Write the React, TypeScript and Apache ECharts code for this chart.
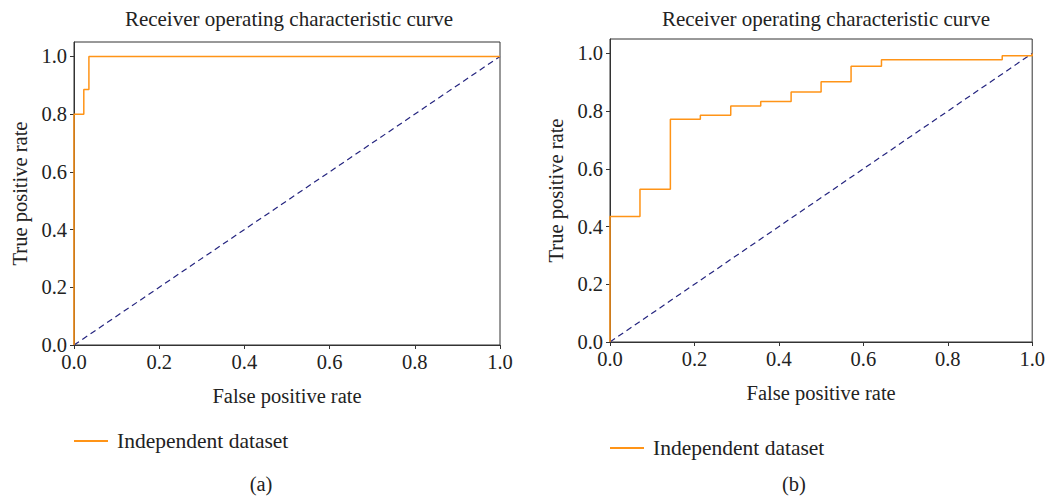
import React, { useEffect, useRef } from "react";
import * as echarts from "echarts";

// Panel (a) ROC points
const fprA = [0, 0, 0.023, 0.023, 0.035, 0.035, 1];
const tprA = [0, 0.8, 0.8, 0.885, 0.885, 1, 1];
// Panel (b) ROC points
const fprB = [0, 0, 0.071, 0.071, 0.143, 0.143, 0.214, 0.214, 0.286, 0.286, 0.357, 0.357, 0.429, 0.429, 0.5, 0.5, 0.571, 0.571, 0.643, 0.643, 0.929, 0.929, 1, 1];
const tprB = [0, 0.435, 0.435, 0.529, 0.529, 0.772, 0.772, 0.786, 0.786, 0.818, 0.818, 0.833, 0.833, 0.866, 0.866, 0.902, 0.902, 0.956, 0.956, 0.978, 0.978, 0.992, 0.992, 1];
// Chance diagonal
const diagX = [0, 1];
const diagY = [0, 1];

const tickValues = [0, 0.2, 0.4, 0.6, 0.8, 1.0];
const titleText = "Receiver operating characteristic curve";
const xName = "False positive rate";
const yName = "True positive rate";
const legendName = "Independent dataset";
const panelLabels = ["(a)", "(b)"];

const FONT = "Liberation Serif";
const ORANGE = "#ff9417";
const NAVY = "#24247f";
const FRAME = "#333333";

const zip = (xs: number[], ys: number[]) => xs.map((x, i) => [x, ys[i]]);

export default function App() {
  const ref = useRef<HTMLDivElement>(null);
  useEffect(() => {
    if (!ref.current) return;
    const chart = echarts.init(ref.current, undefined, { renderer: "svg" });
    const grids = [
      { left: 74, top: 42, width: 426, height: 303 },
      { left: 610, top: 39, width: 426, height: 303 },
    ];
    const mkX = (gi: number) => ({
      type: "value",
      gridIndex: gi,
      min: 0,
      max: 1,
      name: xName,
      nameLocation: "middle",
      nameGap: 40,
      nameTextStyle: { fontFamily: FONT, fontSize: 20.5, color: "#222" },
      axisLine: { show: true, lineStyle: { color: FRAME, width: 1 } },
      axisTick: { show: true, length: 4, customValues: tickValues, lineStyle: { color: FRAME } },
      axisLabel: {
        customValues: tickValues,
        formatter: (v: number) => v.toFixed(1),
        fontFamily: FONT,
        fontSize: 20.5,
        color: "#222",
        margin: 6,
      },
      splitLine: { show: false },
    });
    const mkY = (gi: number) => ({
      type: "value",
      gridIndex: gi,
      min: 0,
      max: 1.05,
      name: yName,
      nameLocation: "middle",
      nameGap: 44,
      nameTextStyle: { fontFamily: FONT, fontSize: 20.5, color: "#222" },
      axisLine: { show: true, lineStyle: { color: FRAME, width: 1 } },
      axisTick: { show: true, length: 4, customValues: tickValues, lineStyle: { color: FRAME } },
      axisLabel: {
        customValues: tickValues,
        formatter: (v: number) => v.toFixed(1),
        fontFamily: FONT,
        fontSize: 20.5,
        color: "#222",
        margin: 7,
      },
      splitLine: { show: false },
    });
    const rocSeries = (idx: number, xs: number[], ys: number[]) => ({
      type: "line",
      name: legendName,
      xAxisIndex: idx,
      yAxisIndex: idx,
      data: zip(xs, ys),
      symbol: "none",
      clip: false,
      z: 4,
      lineStyle: { color: ORANGE, width: 1.5 },
      itemStyle: { color: ORANGE },
    });
    const diagSeries = (idx: number) => ({
      type: "line",
      name: "chance",
      xAxisIndex: idx,
      yAxisIndex: idx,
      data: zip(diagX, diagY),
      symbol: "none",
      clip: false,
      z: 3,
      lineStyle: { color: NAVY, width: 1.2, type: [6, 4] },
    });
    const mkLegend = (left: number, top: number) => ({
      left,
      top,
      data: [legendName],
      icon: "rect",
      itemWidth: 34,
      itemHeight: 2,
      itemStyle: { color: ORANGE },
      textStyle: { fontFamily: FONT, fontSize: 21.5, color: "#222", padding: [0, 0, 0, 4] },
      selectedMode: false,
    });
    const titleStyle = { text: titleText, fontFamily: FONT, fontSize: 21, fill: "#222", align: "center", verticalAlign: "middle" };
    const panelStyle = { fontFamily: FONT, fontSize: 20.5, fill: "#222", align: "center", verticalAlign: "middle" };
    chart.setOption({
      animation: false,
      backgroundColor: "#ffffff",
      grid: grids.map((g) => ({ ...g, show: true, borderColor: FRAME, borderWidth: 1, backgroundColor: "transparent" })),
      xAxis: [mkX(0), mkX(1)],
      yAxis: [mkY(0), mkY(1)],
      legend: [mkLegend(69, 425), mkLegend(605, 432)],
      series: [diagSeries(0), rocSeries(0, fprA, tprA), diagSeries(1), rocSeries(1, fprB, tprB)],
      graphic: [
        { type: "text", x: 289, y: 19, style: { ...titleStyle } },
        { type: "text", x: 826, y: 19, style: { ...titleStyle } },
        { type: "text", x: 261, y: 484, style: { ...panelStyle, text: panelLabels[0] } },
        { type: "text", x: 794, y: 484, style: { ...panelStyle, text: panelLabels[1] } },
      ],
    });
    return () => chart.dispose();
  }, []);
  return (
    <div
      ref={ref}
      style={{ position: "absolute", left: 0, top: 0, width: 1048, height: 496, background: "#fff" }}
    />
  );
}
